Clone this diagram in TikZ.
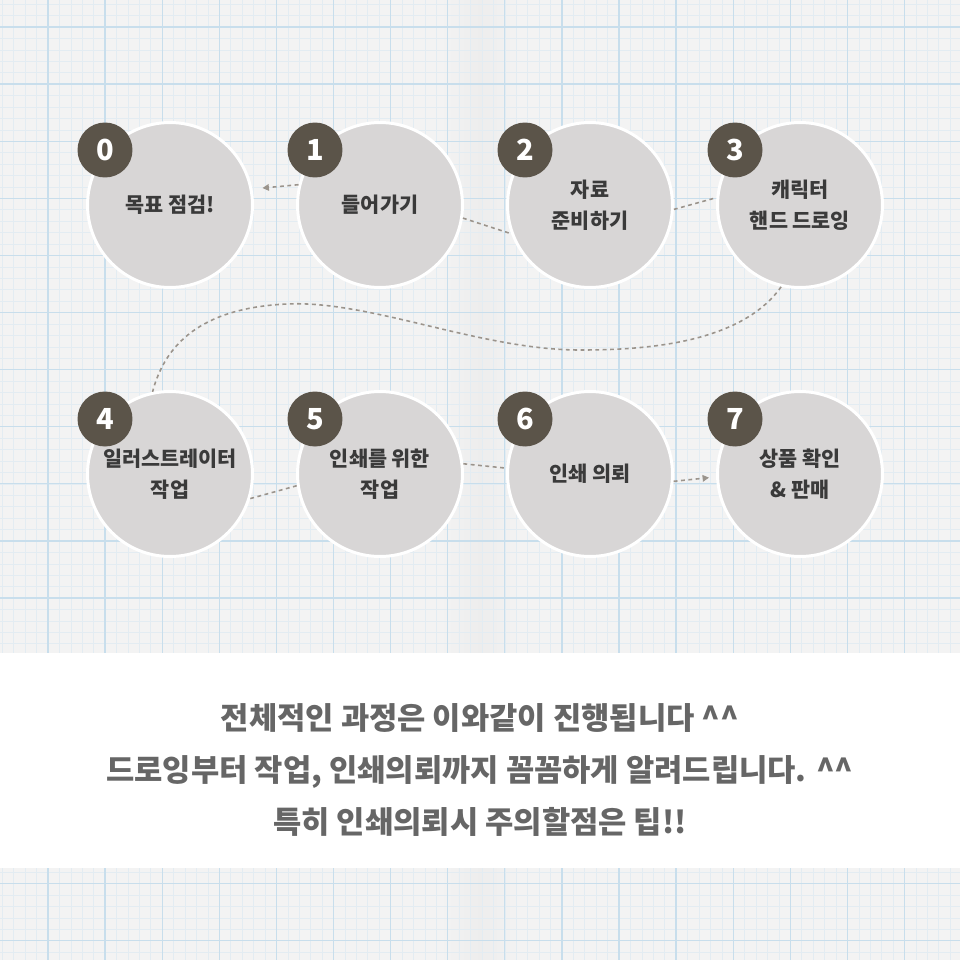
\documentclass[tikz,border=0pt]{standalone}
\usepackage{fontspec}
\setmainfont{Noto Sans CJK KR}
\usetikzlibrary{arrows.meta, shadings}

\definecolor{paper}{HTML}{F3F3F3}
\definecolor{minorgrid}{HTML}{E3ECF2}
\definecolor{majorgrid}{HTML}{C8DEEC}
\definecolor{stagefill}{HTML}{D8D6D6}
\definecolor{badgefill}{HTML}{5B5449}
\definecolor{linkgray}{HTML}{9B948C}
\definecolor{labeltext}{HTML}{3A3A3A}
\definecolor{notetext}{HTML}{666666}

\begin{document}
\begin{tikzpicture}[
  x=0.02cm, y=-0.02cm,
  >={Triangle[length=1.3mm, width=1.3mm]},
  stage/.style={circle, draw=white, line width=1.7pt, fill=stagefill, minimum size=3.3cm, inner sep=0pt,
                align=center, text=labeltext, font=\bfseries\fontsize{11.8}{17.5}\selectfont},
  badge/.style={circle, fill=badgefill, minimum size=1.1cm, inner sep=0pt, text=white,
                font=\bfseries\fontsize{16.5}{16.5}\selectfont},
  link/.style={line width=0.9pt, linkgray, dash pattern=on 2.2pt off 2pt},
  minorline/.style={minorgrid, line width=0.3pt},
  majorline/.style={majorgrid, line width=0.7pt},
  note/.style={align=center, text=notetext, font=\bfseries\fontsize{17.5}{29.5}\selectfont},
]
  \useasboundingbox (0,0) rectangle (960,960);
  % paper with grid
  \fill[paper] (0,0) rectangle (960,960);
  \shade[left color=paper, right color=paper, middle color=black!7] (440,0) rectangle (520,960);
  \foreach \i in {0,...,84} {
    \draw[minorline] ({2.3+11.42*\i},0) -- ++(0,960);
    \draw[minorline] (0,{4.2+11.42*\i}) -- ++(960,0);
  }
  \foreach \i in {-1,...,16} {
    \draw[majorline] ({48+57.1*\i},0) -- ++(0,960);
    \draw[majorline] (0,{27+57.1*\i}) -- ++(960,0);
  }
  \fill[white] (0,653) rectangle (960,868);

  % stages
  \foreach \i/\x/\y/\txt in {0/170/205/{목표 점검!}, 1/380/205/{들어가기}, 2/590/205/{자료\\준비하기},
      3/800/205/{캐릭터\\핸드 드로잉}, 4/170/474/{일러스트레이터\\작업}, 5/380/474/{인쇄를 위한\\작업},
      6/590/474/{인쇄 의뢰}, 7/800/474/{상품 확인\\\& 판매}} {
    \node[stage] (c\i) at (\x,\y) {\txt};
    \node[badge] (b\i) at (\x-65,\y-55) {\i};
  }

  % connectors
  \draw[link, ->, shorten >=10pt*0.57] (c1.166) -- (c0.11);
  \foreach \a/\b in {c1.351/c2.200, c2.357/c3.175, c4.343/c5.188, c5.7.5/c6.176.5}
    \draw[link] (\a) -- (\b);
  \draw[link, ->, shorten >=4pt] (c6.355) -- (c7.182);
  \coordinate (trough) at (580,350);
  \coordinate (crest) at (287,304);
  \draw[link] (c3.257) .. controls (740,345) and (640,350) .. (trough)
        .. controls (480,350) and (370,300) .. (crest)
        .. controls (200,308) and (165,345) .. (c4.102);

  % note
  \node[note] (note) at (480,770) {전체적인 과정은 이와같이 진행됩니다 \^{}\^{}\\
    드로잉부터 작업, 인쇄의뢰까지 꼼꼼하게 알려드립니다. \^{}\^{}\\
    특히 인쇄의뢰시 주의할점은 팁!!};
\end{tikzpicture}
\end{document}
